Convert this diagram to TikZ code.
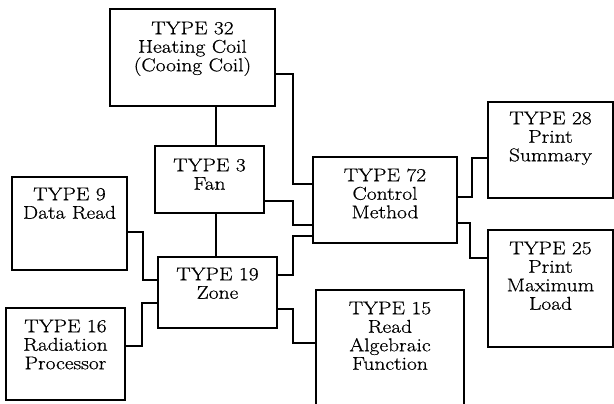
\documentclass[tikz,border=0pt]{standalone}
\usepackage{fontspec}
\setmainfont{Latin Modern Roman}[FakeStretch=1.16,FakeBold=0.6]
\begin{document}
\begin{tikzpicture}[x=1bp,y=-1bp,
  blk/.style={draw,line width=1.2bp,inner sep=0pt,rectangle},
  lbl/.style={anchor=north,inner sep=0pt,align=center,font=\fontsize{18.5bp}{18.5bp}\selectfont},
  wire/.style={line width=1.2bp}]
\useasboundingbox (0,0) rectangle (614,403);
% boxes
\node[blk,minimum width=165bp,minimum height=97bp] (t32) at (192.5,57.5) {};
\node[blk,minimum width=109bp,minimum height=67bp] (t3) at (209.5,179.5) {};
\node[blk,minimum width=115bp,minimum height=93bp] (t9) at (69.5,223.5) {};
\node[blk,minimum width=119bp,minimum height=71bp] (t19) at (217.5,292.5) {};
\node[blk,minimum width=119bp,minimum height=92bp] (t16) at (65.5,354) {};
\node[blk,minimum width=144bp,minimum height=86bp] (t72) at (385,200) {};
\node[blk,minimum width=125bp,minimum height=96bp] (t28) at (550.5,150) {};
\node[blk,minimum width=125bp,minimum height=117bp] (t25) at (550.5,288.5) {};
\node[blk,minimum width=148bp,minimum height=120bp] (t15) at (390,350) {};
% labels
\node[lbl] (l32) at ([yshift=-13bp]t32.north) {TYPE 32\\Heating Coil\\(Cooing Coil)};
\node[lbl] (l3) at ([yshift=-13bp]t3.north) {TYPE 3\\Fan};
\node[lbl] (l9) at ([yshift=-11bp]t9.north) {TYPE 9\\Data Read};
\node[lbl] (l19) at ([yshift=-11bp]t19.north) {TYPE 19\\Zone};
\node[lbl] (l16) at ([yshift=-12bp]t16.north) {TYPE 16\\Radiation\\Processor};
\node[lbl] (l72) at ([yshift=-12bp]t72.north) {TYPE 72\\Control\\Method};
\node[lbl] (l28) at ([yshift=-10bp]t28.north) {TYPE 28\\Print\\Summary};
\node[lbl] (l25) at ([yshift=-12bp]t25.north) {TYPE 25\\Print\\Maximum\\Load};
\node[lbl] (l15) at ([yshift=-12bp]t15.north) {TYPE 15\\Read\\Algebraic\\Function};
% connectors
\draw[wire] (t32.south -| 216,0) -- (t3.north -| 216,0);
\draw[wire] (t3.south -| 216,0) -- (t19.north -| 216,0);
\draw[wire] (t32.east |- 0,74) -| (293,184) -- (t72.west |- 0,184);
\draw[wire] (t3.east |- 0,201) -| (293,225) -- (t72.west |- 0,225);
\draw[wire] (t19.east |- 0,275) -| (293,236) -- (t72.west |- 0,236);
\draw[wire] (t19.east |- 0,309) -| (293,343) -- (t15.west |- 0,343);
\draw[wire] (t9.east |- 0,232) -| (143,280) -- (t19.west |- 0,280);
\draw[wire] (t16.east |- 0,346) -| (142,303) -- (t19.west |- 0,303);
\draw[wire] (t72.east |- 0,197) -| (472,158) -- (t28.west |- 0,158);
\draw[wire] (t72.east |- 0,223) -| (470,258) -- (t25.west |- 0,258);
\end{tikzpicture}
\end{document}
